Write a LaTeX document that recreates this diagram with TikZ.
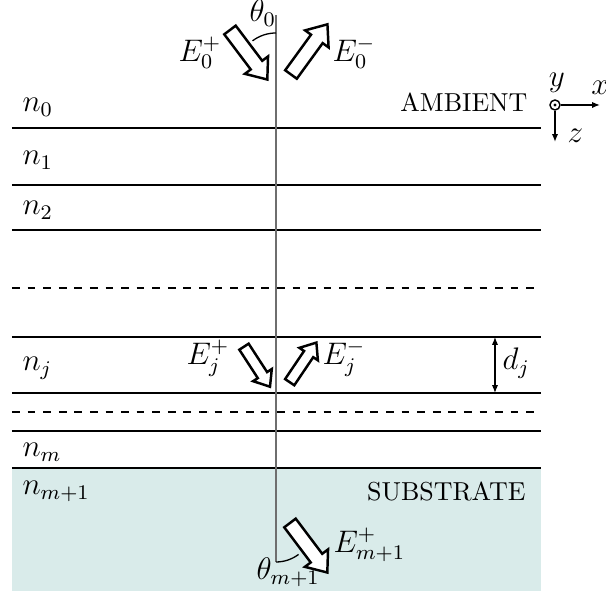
\documentclass[tikz,border=0pt]{standalone}
\usetikzlibrary{arrows.meta}
\definecolor{substr}{RGB}{217,235,234}
\definecolor{axisgray}{RGB}{110,110,110}
\newcommand\fatarrow[3]{%
  \draw[fatarr,shift={#1},rotate=#2,scale=#3]
    (0,-7.2) -- (44,-7.2) -- (44,-14.5) -- (62,0) -- (44,14.5) -- (44,7.2) -- (0,7.2) -- cycle;}
\begin{document}
\begin{tikzpicture}[x=0.385pt,y=0.385pt,
  layer/.style={thick},
  dlayer/.style={thick,dashed},
  lbl/.style={inner sep=0pt,anchor=base west,font=\fontsize{11.5}{13}\selectfont},
  fatarr/.style={line width=0.95pt,fill=white,draw=black,line join=miter},
  thin arc/.style={line width=0.5pt},
  >={Latex[length=3pt,width=2.4pt]}]
\useasboundingbox (0,0) rectangle (606,594);
% substrate
\fill[substr] (12,3) rectangle (541,126);
% layer boundaries
\draw[layer] (12,466) -- (541,466);
\draw[layer] (12,409) -- (541,409);
\draw[layer] (12,364) -- (541,364);
\draw[dlayer] (12,306) -- (541,306);
\draw[layer] (12,257) -- (541,257);
\draw[layer] (12,201) -- (541,201);
\draw[dlayer] (12,182) -- (541,182);
\draw[layer] (12,163) -- (541,163);
\draw[layer] (12,126) -- (541,126);
% normal
\coordinate (ntop) at (276,579);
\coordinate (nbot) at (276,32);
\draw[axisgray,line width=0.6pt] (ntop) -- (nbot);
% angle arcs
\draw[thin arc] (276,561) arc[start angle=90,end angle=127,radius=39];
\draw[thin arc] (276,32) arc[start angle=-90,end angle=-53,radius=37.5];
% labels
\node[lbl] (n0) at (22,482) {$n_0$};
\node[lbl] (n1) at (22,429) {$n_1$};
\node[lbl] (n2) at (22,379) {$n_2$};
\node[lbl] (nj) at (22,223) {$n_j$};
\node[lbl] (nm) at (22,137) {$n_m$};
\node[lbl] (nm1) at (22,99) {$n_{m+1}$};
\node[inner sep=0pt,anchor=base east] (amb) at (528,482) {AMBIENT};
\node[inner sep=0pt,anchor=base east] (sub) at (526,93) {SUBSTRATE};
\node[lbl] (th0) at (249,572) {$\theta_0$};
\node[lbl] (thm) at (256,14) {$\theta_{m+1}$};
% wave arrows
\fatarrow{(230,564)}{-53}{1}
\fatarrow{(291,519.5)}{54}{1}
\fatarrow{(244,247.3)}{-57}{0.77}
\fatarrow{(289.7,211.8)}{56}{0.77}
\fatarrow{(290,71)}{-53}{1}
\node[lbl] (E0p) at (178,532) {$E_0^+$};
\node[lbl] (E0m) at (332,532) {$E_0^-$};
\node[lbl] (Ejp) at (186,229) {$E_j^+$};
\node[lbl] (Ejm) at (322,229) {$E_j^-$};
\node[lbl] (Emp) at (333,41) {$E_{m+1}^+$};
% thickness
\coordinate (dtop) at (495,257);
\coordinate (dbot) at (495,201);
\draw[<->,line width=0.5pt] (dtop) -- (dbot);
\node[lbl] (dj) at (502,224) {$d_j$};
% axes
\node[circle,draw,line width=0.55pt,minimum size=10*0.385pt,inner sep=0pt] (o) at (555,489) {};
\fill (o.center) circle[radius=1.6];
\coordinate (xe) at (600,489);
\coordinate (ze) at (555,452);
\draw[->,line width=0.55pt] (o.east) -- (xe);
\draw[->,line width=0.55pt] (o.south) -- (ze);
\node[lbl,anchor=base] (ylab) at (557,507) {$y$};
\node[lbl,anchor=base] (xlab) at (600,499) {$x$};
\node[lbl] (zlab) at (567,451) {$z$};
\end{tikzpicture}
\end{document}
